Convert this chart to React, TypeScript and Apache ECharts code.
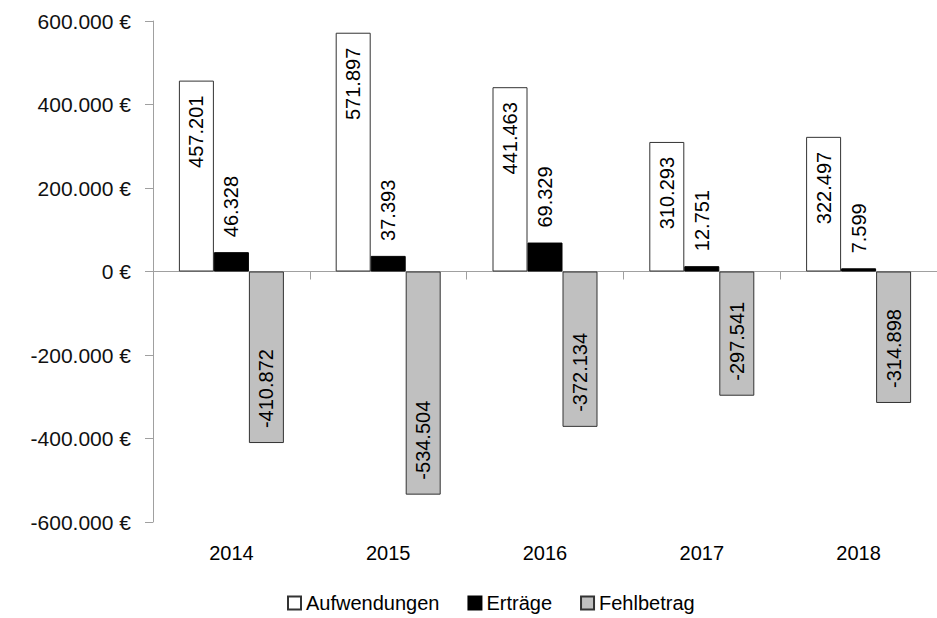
import React, { useEffect, useRef } from "react";
import * as echarts from "echarts";

const years = ["2014", "2015", "2016", "2017", "2018"];
const aufwendungen = [457201, 571897, 441463, 310293, 322497];
const ertraege = [46328, 37393, 69329, 12751, 7599];
const fehlbetrag = [-410872, -534504, -372134, -297541, -314898];
const seriesNames = ["Aufwendungen", "Erträge", "Fehlbetrag"];
const yMin = -600000;
const yMax = 600000;
const yStep = 200000;

const FONT = "'Liberation Sans', Arial, sans-serif";

function fmt(n: number): string {
  const s = Math.abs(Math.round(n)).toString().replace(/\B(?=(\d{3})+(?!\d))/g, ".");
  return (n < 0 ? "-" : "") + s;
}

export default function App() {
  const ref = useRef<HTMLDivElement>(null);
  useEffect(() => {
    document.body.style.margin = "0";
    if (!ref.current) return;
    const chart = echarts.init(ref.current, null, { renderer: "svg" });
    const labelBase = {
      show: true,
      rotate: 90,
      fontFamily: FONT,
      fontSize: 20,
      color: "#000",
      verticalAlign: "middle" as const,
      formatter: (p: any) => fmt(p.value),
    };
    chart.setOption({
      animation: false,
      backgroundColor: "#fff",
      grid: { left: 153, top: 21, width: 792, bottom: 96 },
      legend: {
        left: 287,
        top: 593,
        padding: 0,
        itemWidth: 13,
        itemHeight: 13,
        itemGap: 28,
        icon: "rect",
        data: seriesNames,
        textStyle: { fontFamily: FONT, fontSize: 20, color: "#000" },
      },
      xAxis: [
        {
          type: "category",
          data: years,
          position: "bottom",
          axisLine: { onZero: true, lineStyle: { color: "#a0a0a0", width: 1 } },
          axisTick: { show: true, length: 8, lineStyle: { color: "#a0a0a0" } },
          axisLabel: { show: false },
          splitLine: { show: false },
        },
        {
          type: "category",
          data: years,
          position: "bottom",
          axisLine: { show: false, onZero: false },
          axisTick: { show: false },
          axisLabel: { show: true, margin: 21, fontFamily: FONT, fontSize: 20, color: "#000" },
          splitLine: { show: false },
        },
      ],
      yAxis: {
        type: "value",
        min: yMin,
        max: yMax,
        interval: yStep,
        axisLine: { show: true, lineStyle: { color: "#a0a0a0", width: 1 } },
        axisTick: { show: true, length: 8, lineStyle: { color: "#a0a0a0" } },
        splitLine: { show: false },
        axisLabel: {
          margin: 22,
          fontFamily: FONT,
          fontSize: 21,
          color: "#111",
          formatter: (v: number) => fmt(v) + " €",
        },
      },
      series: [
        {
          name: seriesNames[0],
          type: "bar",
          data: aufwendungen,
          barWidth: 35,
          barGap: "0%",
          itemStyle: { color: "#ffffff", borderColor: "#333", borderWidth: 1 },
          label: { ...labelBase, position: "insideTop", distance: 15, align: "right" },
        },
        {
          name: seriesNames[1],
          type: "bar",
          data: ertraege,
          barWidth: 35,
          barGap: "0%",
          itemStyle: { color: "#000000", borderColor: "#000", borderWidth: 1 },
          label: { ...labelBase, position: "top", distance: 15, align: "left" },
        },
        {
          name: seriesNames[2],
          type: "bar",
          data: fehlbetrag,
          barWidth: 35,
          barGap: "0%",
          itemStyle: { color: "#c0c0c0", borderColor: "#333", borderWidth: 1 },
          label: { ...labelBase, position: "insideBottom", distance: 15, align: "left" },
        },
      ],
    });
    return () => chart.dispose();
  }, []);
  return <div ref={ref} style={{ width: 937, height: 618 }} />;
}
